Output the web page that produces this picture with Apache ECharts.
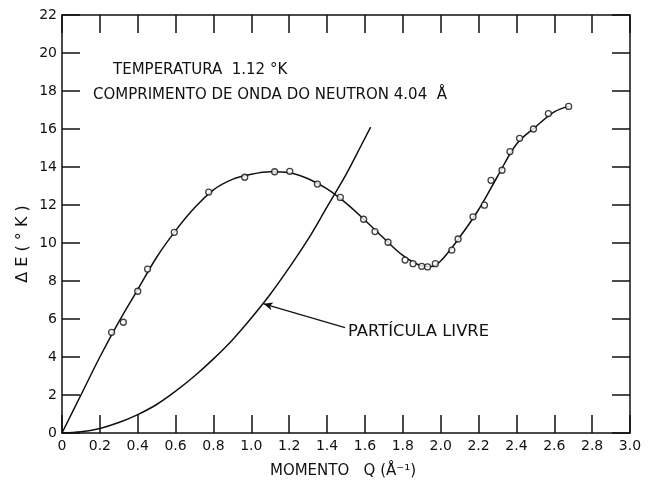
<!DOCTYPE html>
<html>
<head>
<meta charset="utf-8">
<script src="https://cdn.jsdelivr.net/npm/echarts@6/dist/echarts.min.js"></script>
<style>
  html, body { margin: 0; padding: 0; background: #fff; }
  #chart { width: 654px; height: 481px; }
</style>
</head>
<body>
<div id="chart"></div>
<script>
// measured points (Q in 1/Å, ΔE in °K)
const measQ = [0.262, 0.324, 0.400, 0.452, 0.593, 0.775, 0.965, 1.123, 1.203, 1.349, 1.470, 1.593, 1.653, 1.722, 1.812, 1.854, 1.900, 1.931, 1.972, 2.059, 2.092, 2.171, 2.231, 2.266, 2.324, 2.366, 2.417, 2.490, 2.569, 2.676];
const measE = [5.30, 5.83, 7.46, 8.63, 10.56, 12.68, 13.46, 13.75, 13.77, 13.10, 12.40, 11.25, 10.60, 10.04, 9.10, 8.91, 8.77, 8.74, 8.91, 9.63, 10.21, 11.38, 11.99, 13.30, 13.83, 14.81, 15.51, 16.00, 16.81, 17.19];

// drawn dispersion curve
const curveQ = [0, 0.1, 0.2, 0.3, 0.4, 0.5, 0.6, 0.7, 0.8, 0.9, 1.0, 1.1, 1.2, 1.3, 1.4, 1.5, 1.6, 1.7, 1.8, 1.9, 1.95, 2.0, 2.1, 2.2, 2.3, 2.4, 2.5, 2.6, 2.676];
const curveE = [0, 2.0, 4.0, 5.85, 7.55, 9.25, 10.65, 11.85, 12.8, 13.35, 13.62, 13.75, 13.7, 13.38, 12.85, 12.1, 11.2, 10.25, 9.35, 8.8, 8.76, 9.05, 10.3, 11.75, 13.5, 15.2, 16.1, 16.9, 17.19];

// free particle curve
const freeQ = [0, 0.1, 0.2, 0.3, 0.4, 0.5, 0.6, 0.7, 0.8, 0.9, 1.0, 1.1, 1.2, 1.3, 1.4, 1.5, 1.55, 1.63];
const freeE = [0, 0.06, 0.24, 0.55, 0.97, 1.5, 2.2, 3.0, 3.9, 4.9, 6.05, 7.3, 8.7, 10.2, 11.9, 13.6, 14.55, 16.1];

const xTicks = ["0", "0.2", "0.4", "0.6", "0.8", "1.0", "1.2", "1.4", "1.6", "1.8", "2.0", "2.2", "2.4", "2.6", "2.8", "3.0"];
const yTicks = [0, 2, 4, 6, 8, 10, 12, 14, 16, 18, 20, 22];

const arrowFrom = [1.495, 5.55];
const arrowTo = [1.065, 6.8];

const ink = "#111";
const font = "DejaVu Sans";

const chart = echarts.init(document.getElementById("chart"));

const lineAxis = { onZero: false, lineStyle: { color: ink, width: 1.5 } };
const tick = { inside: true, length: 18, lineStyle: { color: ink, width: 1.5 } };
const lbl = { color: ink, fontSize: 14, fontFamily: font };

chart.setOption({
  backgroundColor: "#fff",
  animation: false,
  grid: { left: 62, right: 24, top: 15, bottom: 48 },
  xAxis: [
    {
      type: "value", min: 0, max: 3, interval: 0.2,
      axisLine: lineAxis, axisTick: tick, splitLine: { show: false },
      axisLabel: { ...lbl, margin: 6, formatter: (v) => xTicks[Math.round(v / 0.2)] },
    },
    {
      type: "value", position: "top", min: 0, max: 3, interval: 0.2,
      axisLine: lineAxis, axisTick: tick, splitLine: { show: false },
      axisLabel: { show: false },
    },
  ],
  yAxis: [
    {
      type: "value", min: 0, max: 22, interval: 2,
      axisLine: lineAxis, axisTick: tick, splitLine: { show: false },
      axisLabel: { ...lbl, margin: 5, formatter: (v) => String(yTicks[Math.round(v / 2)]) },
    },
    {
      type: "value", position: "right", min: 0, max: 22, interval: 2,
      axisLine: lineAxis, axisTick: tick, splitLine: { show: false },
      axisLabel: { show: false },
    },
  ],
  series: [
    {
      type: "line",
      data: curveQ.map((q, i) => [q, curveE[i]]),
      smooth: 0.35,
      symbol: "none",
      lineStyle: { color: ink, width: 1.5 },
      z: 2,
    },
    {
      type: "line",
      data: freeQ.map((q, i) => [q, freeE[i]]),
      smooth: 0.35,
      symbol: "none",
      lineStyle: { color: ink, width: 1.5 },
      z: 2,
      markLine: {
        silent: true,
        symbol: ["none", "arrow"],
        symbolSize: [6, 9],
        label: { show: false },
        lineStyle: { color: ink, width: 1.2, type: "solid" },
        data: [[{ coord: arrowFrom }, { coord: arrowTo }]],
      },
    },
    {
      type: "scatter",
      data: measQ.map((q, i) => [q, measE[i]]),
      symbol: "circle",
      symbolSize: 6,
      itemStyle: { color: "#fff", borderColor: ink, borderWidth: 1.3 },
      z: 3,
    },
  ],
  graphic: [
    { type: "text", left: 113, top: 63, style: { text: "TEMPERATURA  1.12 °K", fill: ink, fontSize: 15, fontFamily: font } },
    { type: "text", left: 93, top: 88, style: { text: "COMPRIMENTO DE ONDA DO NEUTRON 4.04  Å", fill: ink, fontSize: 15, fontFamily: font } },
    { type: "text", left: 348, top: 325, scaleX: 1.09, style: { text: "PARTÍCULA LIVRE", fill: ink, fontSize: 15, fontFamily: font } },
    { type: "text", x: 343, y: 471, style: { text: "MOMENTO   Q (Å⁻¹)", fill: ink, fontSize: 15, fontFamily: font, align: "center", verticalAlign: "middle" } },
    { type: "text", x: 23, y: 244, rotation: Math.PI / 2, style: { text: "Δ E ( ° K )", fill: ink, fontSize: 16, fontFamily: font, align: "center", verticalAlign: "middle" } },
  ],
});
</script>
</body>
</html>
